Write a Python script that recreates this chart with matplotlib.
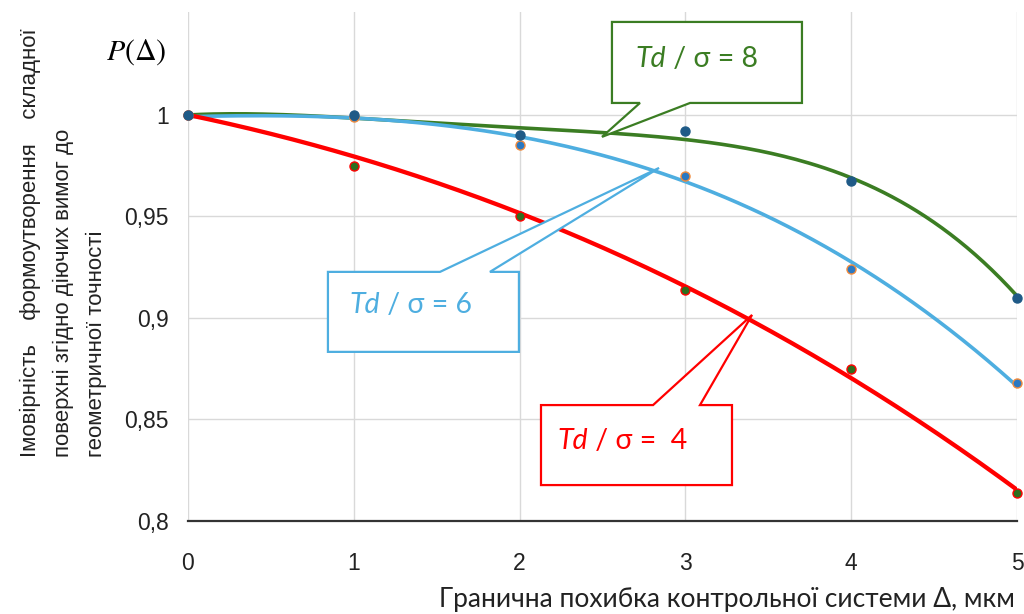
import numpy as np
import matplotlib.pyplot as plt
from matplotlib.patches import Polygon

# measured points, P(delta) for three Td/sigma ratios
xs = [0, 1, 2, 3, 4, 5]
p_td8 = [1.0, 1.0, 0.990, 0.992, 0.9675, 0.910]
p_td6 = [1.0, 0.999, 0.985, 0.970, 0.924, 0.868]
p_td4 = [1.0, 0.975, 0.950, 0.914, 0.875, 0.814]

# trend lines
trend_x = [0, 1, 2, 2.5, 3, 3.5, 4, 4.5, 5]
trend_td8 = [1.0, 0.9984, 0.9934, 0.9915, 0.989, 0.980, 0.9688, 0.948, 0.9105]
trend_td6 = [1.0, 0.9962, 0.989, 0.9828, 0.968, 0.949, 0.927, 0.898, 0.868]
trend_td4 = [1.0, 0.9795, 0.9524, 0.934, 0.9153, 0.894, 0.871, 0.844, 0.8153]

y_ticks = [0.8, 0.85, 0.9, 0.95, 1.0]
y_tick_labels = ["0,8", "0,85", "0,9", "0,95", "1"]

GREEN = "#3b7d23"
BLUE = "#4eaee0"
RED = "#ff0000"
CALLOUT_FONT = "Lato"


def callout(ax, box, base, tip, side, color, label, text_xy):
    x0, x1, y0, y1 = box
    b0, b1 = base
    if side == "bottom":
        pts = [(x0, y1), (x1, y1), (x1, y0), (b1, y0), tip, (b0, y0), (x0, y0)]
    else:
        pts = [(x0, y1), (b0, y1), tip, (b1, y1), (x1, y1), (x1, y0), (x0, y0)]
    ax.add_patch(Polygon(pts, closed=True, facecolor="white", edgecolor=color,
                         linewidth=1.6, zorder=5, clip_on=False))
    t = ax.text(text_xy[0], text_xy[1], label[0], color=color, fontsize=20.5,
                family=CALLOUT_FONT, style="italic", va="center", zorder=6)
    ax.annotate(label[1], xy=(1, 0), xycoords=t, va="bottom", color=color,
                fontsize=20.5, family=CALLOUT_FONT, zorder=6)


def main():
    fig = plt.figure(figsize=(10.24, 6.14), dpi=100)
    ax = fig.add_axes([188 / 1024, 93 / 614, 829 / 1024, 509 / 614])

    xfit = np.linspace(0, 5, 200)
    series = [(p_td8, trend_td8, 4, GREEN, 2.6, "#1f5a87", "#1f5a87"),
              (p_td6, trend_td6, 3, BLUE, 2.6, "#2a78c2", "#f08a3c"),
              (p_td4, trend_td4, 3, RED, 3.1, "#2e6e1e", RED)]
    for ys, trend, deg, col, lw, mfc, mec in series:
        coef = np.polyfit(trend_x, trend, deg)
        ax.plot(xfit, np.polyval(coef, xfit), color=col, linewidth=lw, zorder=3)
    for ys, trend, deg, col, lw, mfc, mec in series[::-1]:
        ax.plot(xs, ys, "o", color=mfc, markeredgecolor=mec, markersize=6.5,
                markeredgewidth=1.0, zorder=4, clip_on=False)

    ax.set_xlim(0, 5)
    ax.set_ylim(0.8, 1.0507)
    ax.set_xticks(range(6))
    ax.set_yticks(y_ticks)
    ax.set_yticklabels(y_tick_labels)
    ax.grid(True, color="#d9d9d9", linewidth=1.0)
    ax.set_axisbelow(True)
    for s in ["top", "right", "left"]:
        ax.spines[s].set_visible(False)
    ax.spines["bottom"].set_color("#333333")
    ax.spines["bottom"].set_linewidth(1.6)
    ax.tick_params(length=0, labelsize=16.5, colors="#222222")
    ax.tick_params(axis="x", pad=22)
    ax.tick_params(axis="y", pad=14)
    for lab in ax.get_xticklabels() + ax.get_yticklabels():
        lab.set_family("Liberation Sans")

    # callout boxes (data coordinates)
    callout(ax, (2.557, 3.703, 1.0059, 1.0458), (2.726, 3.028), (2.497, 0.9892),
            "bottom", GREEN, ("Td", " / σ = 8"), (2.70, 1.0277))
    callout(ax, (0.844, 1.996, 0.8833, 0.9227), (1.520, 1.821), (2.841, 0.9739),
            "top", BLUE, ("Td", " / σ = 6"), (0.975, 0.9065))
    callout(ax, (2.129, 3.281, 0.8177, 0.8571), (2.805, 3.088), (3.402, 0.9015),
            "top", RED, ("Td", " / σ =  4"), (2.23, 0.8395))

    fig.text(106 / 1024, 1 - 52 / 614, r"$P(\Delta)$", math_fontfamily="stix",
             fontsize=21.5, va="center", ha="left")

    ylabel_lines = ["Імовірність    формоутворення    складної",
                    "поверхні згідно діючих вимог до",
                    "геометричної точності"]
    for i, line in enumerate(ylabel_lines):
        fig.text((30 + 33 * i) / 1024, 1 - 457 / 614, line, rotation=90,
                 ha="center", va="bottom", fontsize=16, family="Liberation Sans",
                 color="#222222")

    fig.text(1015 / 1024, 1 - 600 / 614, "Гранична похибка контрольної системи Δ, мкм",
             ha="right", va="center", fontsize=19, family=CALLOUT_FONT, color="#222222")

    fig.savefig("out.png", dpi=100)


if __name__ == "__main__":
    main()
